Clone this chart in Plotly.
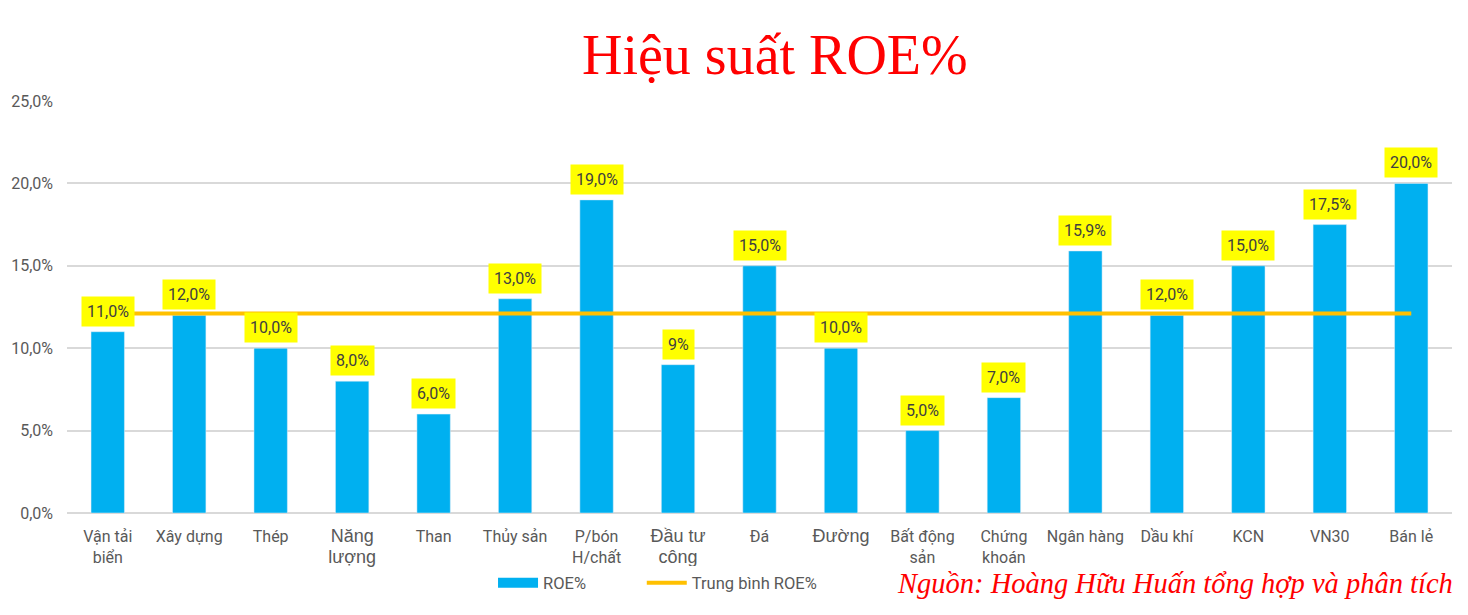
import plotly.graph_objects as go

# data
categories = [
    "Vận tải<br>biển", "Xây dựng", "Thép", "Năng<br>lượng", "Than", "Thủy sản",
    "P/bón<br>H/chất", "Đầu tư<br>công", "Đá", "Đường", "Bất động<br>sản",
    "Chứng<br>khoán", "Ngân hàng", "Dầu khí", "KCN", "VN30", "Bán lẻ",
]
# labels that use the larger sans font in the original
big_font_cats = ["Năng<br>lượng", "Đầu tư<br>công", "Đường"]
roe = [11.0, 12.0, 10.0, 8.0, 6.0, 13.0, 19.0, 9.0, 15.0, 10.0, 5.0, 7.0, 15.9, 12.0, 15.0, 17.5, 20.0]
roe_labels = ["11,0%", "12,0%", "10,0%", "8,0%", "6,0%", "13,0%", "19,0%", "9%", "15,0%",
              "10,0%", "5,0%", "7,0%", "15,9%", "12,0%", "15,0%", "17,5%", "20,0%"]
avg_roe = 12.1
y_ticks = [0, 5, 10, 15, 20, 25]
y_ticktext = ["0,0%", "5,0%", "10,0%", "15,0%", "20,0%", "25,0%"]

BAR_COLOR = "#00B0F0"
LINE_COLOR = "#FFC000"
GRAY = "#595959"
SANS = "Roboto, Arial, sans-serif"

x_idx = list(range(len(categories)))

tick_text = []
for c in categories:
    if c in big_font_cats:
        tick_text.append(f"<span style='font-family:Liberation Sans;font-size:18px'>{c}</span>")
    else:
        tick_text.append(c)

fig = go.Figure()
fig.add_trace(
    go.Bar(
        x=x_idx,
        y=roe,
        name="ROE%",
        marker_color=BAR_COLOR,
        width=0.41,
        hoverinfo="skip",
        showlegend=False,
    )
)
# legend proxy so the bar key is drawn as a wide block like in the original
fig.add_trace(
    go.Scatter(
        x=[None], y=[None], mode="lines", name="ROE%",
        line=dict(color=BAR_COLOR, width=10),
        legend="legend",
    )
)
fig.add_trace(
    go.Scatter(
        x=[x_idx[0], x_idx[-1]],
        y=[avg_roe, avg_roe],
        mode="lines",
        name="Trung bình ROE%",
        line=dict(color=LINE_COLOR, width=4),
        legend="legend2",
    )
)

# yellow data labels above each bar
for xi, v, lab in zip(x_idx, roe, roe_labels):
    fig.add_annotation(
        x=xi, y=v, text=lab, showarrow=False,
        yanchor="bottom", yshift=5,
        bgcolor="#FFFF00", borderpad=5,
        font=dict(family=SANS, size=16, color="#404040"),
    )

fig.add_annotation(
    x=0.511, y=1.112, xref="paper", yref="paper",
    text="Hiệu suất ROE%", showarrow=False,
    font=dict(family="Liberation Serif, serif", size=56, color="#FF0000"),
    xanchor="center", yanchor="middle",
)
fig.add_annotation(
    x=1.002, y=-0.17, xref="paper", yref="paper",
    text="<i>Nguồn: Hoàng Hữu Huấn tổng hợp và phân tích</i>", showarrow=False,
    font=dict(family="Liberation Serif, serif", size=28.5, color="#FF0000"),
    xanchor="right", yanchor="middle",
)

fig.update_xaxes(
    tickmode="array", tickvals=x_idx, ticktext=tick_text,
    range=[-0.5, len(categories) - 0.5],
    tickfont=dict(family=SANS, size=16, color=GRAY),
    showgrid=False, zeroline=False, showline=False, ticks="",
    ticklabelstandoff=12,
)
fig.update_yaxes(
    range=[0, 25], tickmode="array", tickvals=y_ticks, ticktext=y_ticktext,
    tickfont=dict(family=SANS, size=16, color=GRAY),
    showgrid=True, gridcolor="#D9D9D9", gridwidth=1.5,
    zeroline=True, zerolinecolor="#D9D9D9", zerolinewidth=1.5,
    ticklabelstandoff=13,
)
legend_style = dict(
    orientation="h", y=-0.17, xanchor="left", yanchor="middle",
    font=dict(family=SANS, size=16.5, color=GRAY),
    itemwidth=40,
)
fig.update_layout(
    width=1468, height=615,
    margin={"l": 67, "r": 16, "t": 101, "b": 102},
    plot_bgcolor="white", paper_bgcolor="white",
    showlegend=True,
    legend=dict(x=0.3076, **legend_style),
    legend2=dict(x=0.415, **legend_style),
    bargap=0.5,
)

fig.write_html(
    "out.html",
    config={"displayModeBar": False},
    post_script="document.body.style.margin='0';",
)
